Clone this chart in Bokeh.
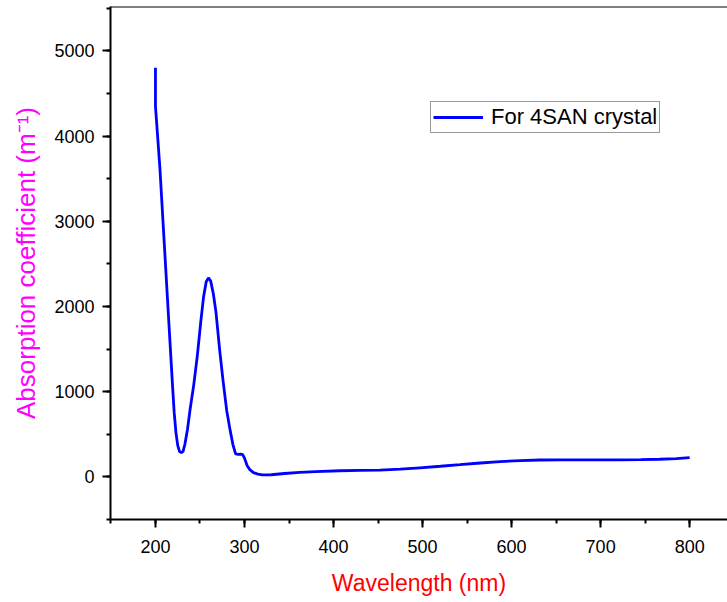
from bokeh.plotting import figure
from bokeh.models import SingleIntervalTicker, Range1d, Span, Legend, LegendItem
from bokeh.embed import file_html
from bokeh.resources import INLINE

# Data
wavelength = [200, 200, 205, 210, 215, 219, 221, 223, 225,
              227, 229, 231, 233, 236, 239, 243, 247, 251, 254,
              257, 259.5, 262, 265, 268, 272, 276, 280, 284, 287,
              290, 293, 296, 298, 300, 303, 306, 310, 315, 320,
              330, 345, 362, 380, 407, 430, 452, 475, 497, 520,
              542, 565, 587, 610, 632, 655, 677, 700, 722, 745,
              766, 785, 800]
absorption = [4800, 4350, 3620, 2720, 1820, 1100, 760, 520, 370,
              300, 283, 300, 380, 560, 800, 1080, 1420, 1830, 2110,
              2290, 2335, 2300, 2150, 1930, 1500, 1120, 780, 540, 380,
              270, 265, 268, 262, 220, 130, 85, 50, 32, 23,
              25, 40, 52, 62, 72, 76, 80, 90, 107, 125,
              143, 163, 180, 192, 198, 200, 200, 200, 200, 203,
              207, 215, 225]
series_name = "For 4SAN crystal"
x_title = "Wavelength (nm)"
y_title = "Absorption coefficient (m\u207b\u00b9)"

X_START, X_END = 149.5, 842.5
Y_START, Y_END = -500, 5520

FONT = "Liberation Sans"

p = figure(width=727, height=602, output_backend="svg", toolbar_location=None,
           x_range=Range1d(X_START, X_END), y_range=Range1d(Y_START, Y_END),
           min_border_left=110, min_border_right=0, min_border_top=6, min_border_bottom=83)
p.background_fill_color = "white"
p.border_fill_color = "white"
p.outline_line_color = None
p.xgrid.visible = False
p.ygrid.visible = False

r = p.line(wavelength, absorption, line_color="#0000FF", line_width=2.8)

# top frame line
p.add_layout(Span(location=Y_END, dimension="width", line_color="black", line_width=2))

p.xaxis.ticker = SingleIntervalTicker(interval=100, num_minor_ticks=2)
p.yaxis.ticker = SingleIntervalTicker(interval=1000, num_minor_ticks=2)

for ax in (p.xaxis, p.yaxis):
    ax.axis_line_color = "black"
    ax.axis_line_width = 2
    ax.major_tick_line_color = "black"
    ax.major_tick_line_width = 2
    ax.minor_tick_line_color = "black"
    ax.minor_tick_line_width = 2
    ax.major_tick_in = 0
    ax.major_tick_out = 8
    ax.minor_tick_in = 0
    ax.minor_tick_out = 4
    ax.major_label_text_font = FONT
    ax.major_label_text_font_size = "18px"
    ax.major_label_text_color = "black"
    ax.axis_label_text_font_style = "normal"

p.xaxis.major_label_standoff = 12
p.yaxis.major_label_standoff = 8

p.xaxis.axis_label = x_title
p.xaxis.axis_label_text_color = "#FF0000"
p.xaxis.axis_label_text_font = FONT
p.xaxis.axis_label_text_font_size = "23px"
p.xaxis.axis_label_standoff = 14

p.yaxis.axis_label = y_title
p.yaxis.axis_label_text_color = "#FF00FF"
p.yaxis.axis_label_text_font = FONT
p.yaxis.axis_label_text_font_size = "26px"
p.yaxis.axis_label_standoff = 10

legend = Legend(items=[LegendItem(label=series_name, renderers=[r])],
                location=(320, 386), margin=0, padding=2, spacing=0,
                glyph_width=50, glyph_height=24, label_height=24, label_standoff=8,
                label_text_font=FONT, label_text_font_size="22px",
                label_text_color="black",
                border_line_color="#333333", border_line_width=1,
                background_fill_color="white", background_fill_alpha=1)
p.add_layout(legend)

open("out.html", "w").write(file_html(p, INLINE))
